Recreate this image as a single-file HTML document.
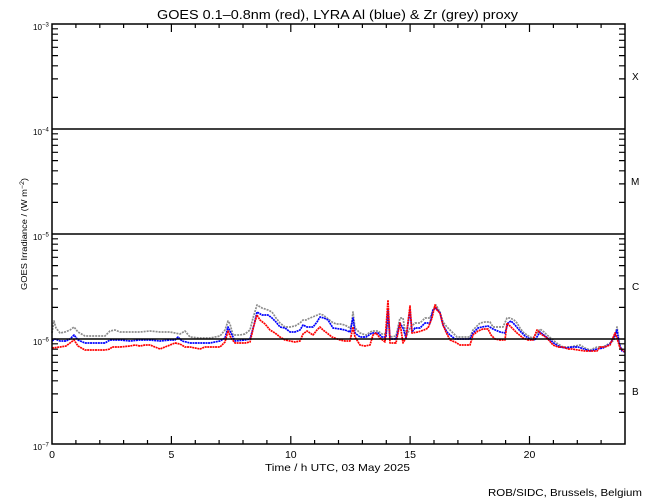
<!DOCTYPE html>
<html>
<head>
<meta charset="utf-8">
<style>
html,body{margin:0;padding:0;background:#fff;}
svg{display:block;}
text{font-family:"Liberation Sans",sans-serif;fill:#000;}
</style>
</head>
<body>
<svg width="650" height="500" viewBox="0 0 650 500" xmlns="http://www.w3.org/2000/svg">
<rect width="650" height="500" fill="#fff"/>
<!-- title -->
<text x="157" y="19" font-size="12.5" textLength="361" lengthAdjust="spacingAndGlyphs">GOES 0.1–0.8nm (red), LYRA Al (blue) &amp; Zr (grey) proxy</text>

<!-- data -->
<g fill="none" stroke-width="1.7" stroke-linejoin="round">
<polyline stroke="#8c8c8c" stroke-dasharray="2 1" points="52,333 54,321 56,328 60,333 65,332 70,330 74,327 78,332 85,336 95,336 105,336 110,331 115,330 120,332 130,332 140,332 150,331 160,332 170,332 175,333 180,334 185,331 190,337 200,338 210,338 220,336 225,330 228,321 230,324 233,335 240,335 245,334 250,330 253,318 257,305 262,308 268,310 272,312 276,318 280,323 285,327 290,327 295,326 300,323 303,320 306,320 310,318 315,316 320,314 323,315 327,318 332,322 336,324 340,324 345,325 348,327 351,328 353,312 355,328 360,333 366,335 372,331 378,331 382,334 386,334 388,319 390,337 396,336 400,318 403,318 406,337 410,328 415,323 420,323 425,318 430,318 433,310 436,305 440,312 443,322 447,327 450,330 453,333 457,337 465,337 470,337 473,330 476,327 480,323 485,322 490,322 493,327 500,327 503,327 507,318 510,318 514,320 517,323 520,328 523,332 527,335 530,337 533,338 537,333 540,329 544,332 547,335 553,340 558,344 563,347 570,347 575,346 580,345 585,348 590,350 597,347 603,347 610,343 614,340 617,327 619,340 620,347 623,350 625,351"/>
<polyline stroke="#0000ff" stroke-dasharray="2 0.6" points="52,341 55,339 60,341 66,341 70,339 74,335 78,340 85,343 95,343 105,343 110,340 120,340 130,341 140,340 150,340 160,341 170,340 175,340 178,337 182,341 190,343 200,343 210,343 220,341 225,338 228,327 231,333 235,341 245,340 250,339 254,325 257,312 262,315 268,315 272,318 276,322 280,327 285,328 290,332 295,332 300,330 303,325 307,327 313,327 317,322 320,317 324,318 328,320 333,328 340,329 345,330 350,332 353,318 355,333 360,337 366,337 372,333 378,333 382,337 386,337 388,310 390,339 396,339 400,323 403,328 406,338 410,310 412,332 415,328 420,328 425,323 430,323 433,310 436,308 440,313 443,325 447,332 450,335 455,339 460,339 470,339 473,333 478,328 482,327 488,326 493,329 500,332 505,333 508,323 511,321 515,325 520,331 525,336 530,339 535,340 540,332 545,336 550,340 555,344 560,347 566,348 572,347 578,347 584,349 590,351 597,349 603,348 610,344 615,335 617,330 619,343 622,351 625,352"/>
<polyline stroke="#ff0000" stroke-dasharray="2 0.6" points="52,348 60,347 66,346 70,343 74,340 78,346 85,350 95,350 105,350 110,349 112,347 120,347 130,346 135,345 140,346 145,345 150,345 155,347 160,349 165,347 170,345 175,343 180,344 185,347 190,347 195,348 200,349 205,347 210,347 215,347 220,347 225,342 228,331 231,338 235,343 245,343 250,342 254,325 257,315 260,320 265,324 270,330 275,333 280,337 285,340 290,341 295,342 300,341 303,334 307,331 313,335 317,330 320,327 323,330 327,333 332,337 340,340 345,341 350,341 353,327 355,337 360,345 365,346 370,345 373,335 376,333 380,338 385,342 388,300 390,343 396,343 400,323 403,343 406,338 410,306 412,333 418,332 424,330 428,328 432,318 435,305 437,310 440,313 443,325 446,332 450,340 455,342 460,345 465,345 470,345 473,335 478,331 483,329 488,329 491,335 495,339 500,340 505,340 507,323 512,328 517,333 523,338 528,340 533,340 537,330 541,334 547,338 553,345 558,347 563,347 568,349 572,349 578,350 585,351 590,351 597,351 600,347 605,347 610,345 615,333 617,338 620,348 625,352"/>
</g>

<!-- decade lines -->
<g stroke="#000" stroke-width="1.5">
<line x1="52" y1="129" x2="625" y2="129"/>
<line x1="52" y1="234" x2="625" y2="234"/>
<line x1="52" y1="339" x2="625" y2="339"/>
</g>

<!-- frame -->
<rect x="52" y="24" width="573" height="420" fill="none" stroke="#000" stroke-width="1.5"/>

<!-- x ticks -->
<g stroke="#000" stroke-width="1.2">
<line x1="75.9" y1="444" x2="75.9" y2="440"/><line x1="99.8" y1="444" x2="99.8" y2="440"/><line x1="123.6" y1="444" x2="123.6" y2="440"/><line x1="147.5" y1="444" x2="147.5" y2="440"/><line x1="171.4" y1="444" x2="171.4" y2="436"/>
<line x1="195.3" y1="444" x2="195.3" y2="440"/><line x1="219.1" y1="444" x2="219.1" y2="440"/><line x1="243" y1="444" x2="243" y2="440"/><line x1="266.9" y1="444" x2="266.9" y2="440"/><line x1="290.8" y1="444" x2="290.8" y2="436"/>
<line x1="314.6" y1="444" x2="314.6" y2="440"/><line x1="338.5" y1="444" x2="338.5" y2="440"/><line x1="362.4" y1="444" x2="362.4" y2="440"/><line x1="386.3" y1="444" x2="386.3" y2="440"/><line x1="410.1" y1="444" x2="410.1" y2="436"/>
<line x1="434" y1="444" x2="434" y2="440"/><line x1="457.9" y1="444" x2="457.9" y2="440"/><line x1="481.8" y1="444" x2="481.8" y2="440"/><line x1="505.6" y1="444" x2="505.6" y2="440"/><line x1="529.5" y1="444" x2="529.5" y2="436"/>
<line x1="553.4" y1="444" x2="553.4" y2="440"/><line x1="577.3" y1="444" x2="577.3" y2="440"/><line x1="601.1" y1="444" x2="601.1" y2="440"/>
<line x1="75.9" y1="24" x2="75.9" y2="28"/><line x1="99.8" y1="24" x2="99.8" y2="28"/><line x1="123.6" y1="24" x2="123.6" y2="28"/><line x1="147.5" y1="24" x2="147.5" y2="28"/><line x1="171.4" y1="24" x2="171.4" y2="32"/>
<line x1="195.3" y1="24" x2="195.3" y2="28"/><line x1="219.1" y1="24" x2="219.1" y2="28"/><line x1="243" y1="24" x2="243" y2="28"/><line x1="266.9" y1="24" x2="266.9" y2="28"/><line x1="290.8" y1="24" x2="290.8" y2="32"/>
<line x1="314.6" y1="24" x2="314.6" y2="28"/><line x1="338.5" y1="24" x2="338.5" y2="28"/><line x1="362.4" y1="24" x2="362.4" y2="28"/><line x1="386.3" y1="24" x2="386.3" y2="28"/><line x1="410.1" y1="24" x2="410.1" y2="32"/>
<line x1="434" y1="24" x2="434" y2="28"/><line x1="457.9" y1="24" x2="457.9" y2="28"/><line x1="481.8" y1="24" x2="481.8" y2="28"/><line x1="505.6" y1="24" x2="505.6" y2="28"/><line x1="529.5" y1="24" x2="529.5" y2="32"/>
<line x1="553.4" y1="24" x2="553.4" y2="28"/><line x1="577.3" y1="24" x2="577.3" y2="28"/><line x1="601.1" y1="24" x2="601.1" y2="28"/>
</g>

<!-- y minor ticks -->
<path stroke="#000" stroke-width="1.2" fill="none" d="
M52 97.4h6M52 78.9h6M52 65.8h6M52 55.6h6M52 47.3h6M52 40.3h6M52 34.2h6M52 28.8h6
M52 202.4h6M52 183.9h6M52 170.8h6M52 160.6h6M52 152.3h6M52 145.3h6M52 139.2h6M52 133.8h6
M52 307.4h6M52 288.9h6M52 275.8h6M52 265.6h6M52 257.3h6M52 250.3h6M52 244.2h6M52 238.8h6
M52 412.4h6M52 393.9h6M52 380.8h6M52 370.6h6M52 362.3h6M52 355.3h6M52 349.2h6M52 343.8h6
M625 97.4h-6M625 78.9h-6M625 65.8h-6M625 55.6h-6M625 47.3h-6M625 40.3h-6M625 34.2h-6M625 28.8h-6
M625 202.4h-6M625 183.9h-6M625 170.8h-6M625 160.6h-6M625 152.3h-6M625 145.3h-6M625 139.2h-6M625 133.8h-6
M625 307.4h-6M625 288.9h-6M625 275.8h-6M625 265.6h-6M625 257.3h-6M625 250.3h-6M625 244.2h-6M625 238.8h-6
M625 412.4h-6M625 393.9h-6M625 380.8h-6M625 370.6h-6M625 362.3h-6M625 355.3h-6M625 349.2h-6M625 343.8h-6"/>

<!-- y tick labels -->
<g font-size="8">
<text x="33" y="30" textLength="9" lengthAdjust="spacingAndGlyphs">10</text><text x="42" y="26.5" font-size="6">−3</text>
<text x="33" y="135" textLength="9" lengthAdjust="spacingAndGlyphs">10</text><text x="42" y="131.5" font-size="6">−4</text>
<text x="33" y="240" textLength="9" lengthAdjust="spacingAndGlyphs">10</text><text x="42" y="236.5" font-size="6">−5</text>
<text x="33" y="345" textLength="9" lengthAdjust="spacingAndGlyphs">10</text><text x="42" y="341.5" font-size="6">−6</text>
<text x="33" y="450" textLength="9" lengthAdjust="spacingAndGlyphs">10</text><text x="42" y="446.5" font-size="6">−7</text>
</g>

<!-- x tick labels -->
<g font-size="10.5" text-anchor="middle">
<text x="52" y="458">0</text>
<text x="171.4" y="458">5</text>
<text x="290.8" y="458">10</text>
<text x="410.1" y="458">15</text>
<text x="529.5" y="458">20</text>
</g>

<!-- x axis label -->
<text x="265" y="471" font-size="10.5" textLength="145" lengthAdjust="spacingAndGlyphs">Time / h UTC, 03 May 2025</text>

<!-- y axis label -->
<text transform="translate(27,290) rotate(-90)" font-size="8" textLength="112" lengthAdjust="spacingAndGlyphs">GOES Irradiance / (W m<tspan dy="-3" font-size="6">−2</tspan><tspan dy="3">)</tspan></text>

<!-- class labels -->
<g font-size="10">
<text x="632" y="80">X</text>
<text x="631" y="185">M</text>
<text x="632" y="290">C</text>
<text x="632" y="395">B</text>
</g>

<!-- credit -->
<text x="488" y="496" font-size="10.5" textLength="154" lengthAdjust="spacingAndGlyphs">ROB/SIDC, Brussels, Belgium</text>
</svg>
</body>
</html>
